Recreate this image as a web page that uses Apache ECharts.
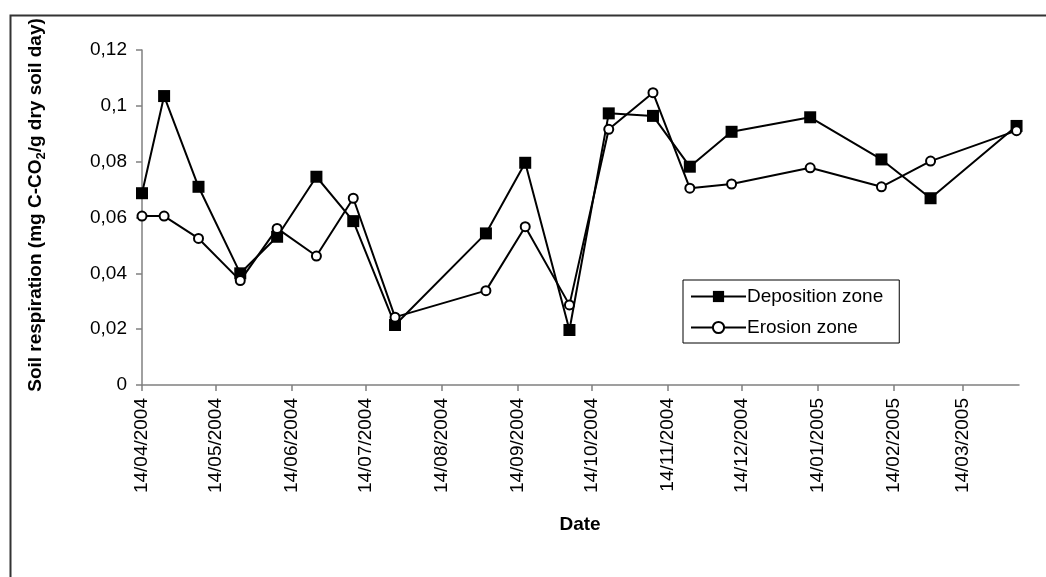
<!DOCTYPE html>
<html>
<head>
<meta charset="utf-8">
<script src="https://cdn.jsdelivr.net/npm/echarts@6/dist/echarts.min.js"></script>
<style>html,body{margin:0;padding:0;background:#fff;}#c{width:1046px;height:577px;}</style>
</head>
<body>
<div id="c"></div>
<script>
// ---- data ----
var dates = ['2004-04-14','2004-04-23','2004-05-07','2004-05-24','2004-06-08','2004-06-24','2004-07-09','2004-07-26','2004-09-01','2004-09-17','2004-10-05','2004-10-21','2004-11-08','2004-11-23','2004-12-10','2005-01-11','2005-02-09','2005-03-01','2005-04-05'];
var deposition = [0.0687,0.1035,0.0710,0.0400,0.0531,0.0746,0.0587,0.0215,0.0543,0.0796,0.0197,0.0973,0.0964,0.0782,0.0907,0.0959,0.0808,0.0669,0.0928];
var erosion = [0.0605,0.0605,0.0525,0.0374,0.0561,0.0462,0.0669,0.0243,0.0338,0.0567,0.0287,0.0916,0.1047,0.0705,0.0720,0.0778,0.0710,0.0802,0.0911];
var tickDates = ['2004-04-14','2004-05-14','2004-06-14','2004-07-14','2004-08-14','2004-09-14','2004-10-14','2004-11-14','2004-12-14','2005-01-14','2005-02-14','2005-03-14'];
var axisStart = '2004-04-14';
var axisEnd = '2005-04-06';
var yTicks = [0, 0.02, 0.04, 0.06, 0.08, 0.1, 0.12];
var seriesNames = ['Deposition zone', 'Erosion zone'];

function dayNum(s) {
  var p = s.split('-');
  var t = Date.UTC(+p[0], +p[1] - 1, +p[2]);
  var p0 = axisStart.split('-');
  return Math.round((t - Date.UTC(+p0[0], +p0[1] - 1, +p0[2])) / 86400000);
}
function fmtDay(d) {
  var p0 = axisStart.split('-');
  var t = new Date(Date.UTC(+p0[0], +p0[1] - 1, +p0[2]) + d * 86400000);
  var dd = ('0' + t.getUTCDate()).slice(-2), mm = ('0' + (t.getUTCMonth() + 1)).slice(-2);
  return dd + '/' + mm + '/' + t.getUTCFullYear();
}
var tickVals = tickDates.map(dayNum);
var depData = dates.map(function (d, i) { return [dayNum(d), deposition[i]]; });
var eroData = dates.map(function (d, i) { return [dayNum(d), erosion[i]]; });

var chart = echarts.init(document.getElementById('c'), null, {renderer: 'canvas'});
var font = 'Liberation Sans, Arial, sans-serif';
chart.setOption({
  animation: false,
  backgroundColor: '#fff',
  textStyle: {fontFamily: font},
  grid: {left: 142, right: 27, top: 50, bottom: 192, containLabel: false},
  xAxis: {
    type: 'value',
    min: 0,
    max: dayNum(axisEnd),
    splitLine: {show: false},
    axisLine: {onZero: false, lineStyle: {color: '#808080', width: 1.5}},
    axisTick: {show: true, customValues: tickVals, length: 6, lineStyle: {color: '#808080', width: 1.5}},
    axisLabel: {customValues: tickVals, rotate: 90, margin: 13, fontSize: 19, color: '#000', fontFamily: font,
      formatter: function (v) { return fmtDay(v); }}
  },
  yAxis: {
    type: 'value',
    min: 0,
    max: 0.12,
    interval: 0.02,
    splitLine: {show: false},
    axisLine: {show: true, lineStyle: {color: '#808080', width: 1.5}},
    axisTick: {show: true, length: 6, lineStyle: {color: '#808080', width: 1.5}},
    axisLabel: {margin: 15, fontSize: 19, color: '#000', fontFamily: font,
      formatter: function (v) { return String(+v.toFixed(2)).replace('.', ','); }}
  },
  legend: {
    orient: 'vertical',
    left: 683,
    top: 280,
    padding: [7, 16, 6, 7],
    itemGap: 12,
    itemWidth: 55,
    itemHeight: 14,
    borderColor: '#000',
    borderWidth: 1,
    backgroundColor: '#fff',
    textStyle: {fontSize: 19, color: '#000', fontFamily: font, padding: [0, 0, 0, -4]},
    data: seriesNames
  },
  series: [
    {
      name: seriesNames[0], type: 'line', data: depData,
      symbol: 'rect', symbolSize: 12,
      lineStyle: {color: '#000', width: 2},
      itemStyle: {color: '#000', borderColor: '#000', borderWidth: 0}
    },
    {
      name: seriesNames[1], type: 'line', data: eroData,
      symbol: 'circle', symbolSize: 9,
      lineStyle: {color: '#000', width: 2},
      itemStyle: {color: '#fff', borderColor: '#000', borderWidth: 2}
    }
  ],
  graphic: [
    {type: 'rect', left: 8, top: 13, shape: {width: 1200, height: 700}, style: {fill: 'none', stroke: '#333', lineWidth: 2}, silent: true, z: -1},
    {type: 'text', x: 36, y: 205, rotation: Math.PI / 2,
      style: {text: '{a|Soil respiration (mg C-CO}{s|2}{a|/g dry soil day)}', align: 'center', verticalAlign: 'middle',
        rich: {a: {fontSize: 19, fontWeight: 'bold', fontFamily: font, fill: '#000'},
               s: {fontSize: 13, fontWeight: 'bold', fontFamily: font, fill: '#000', padding: [10, 0, 0, 0]}}}},
    {type: 'text', x: 580, y: 525,
      style: {text: 'Date', align: 'center', verticalAlign: 'middle', fontSize: 19, fontWeight: 'bold', fontFamily: font, fill: '#000'}}
  ]
});
</script>
</body>
</html>
